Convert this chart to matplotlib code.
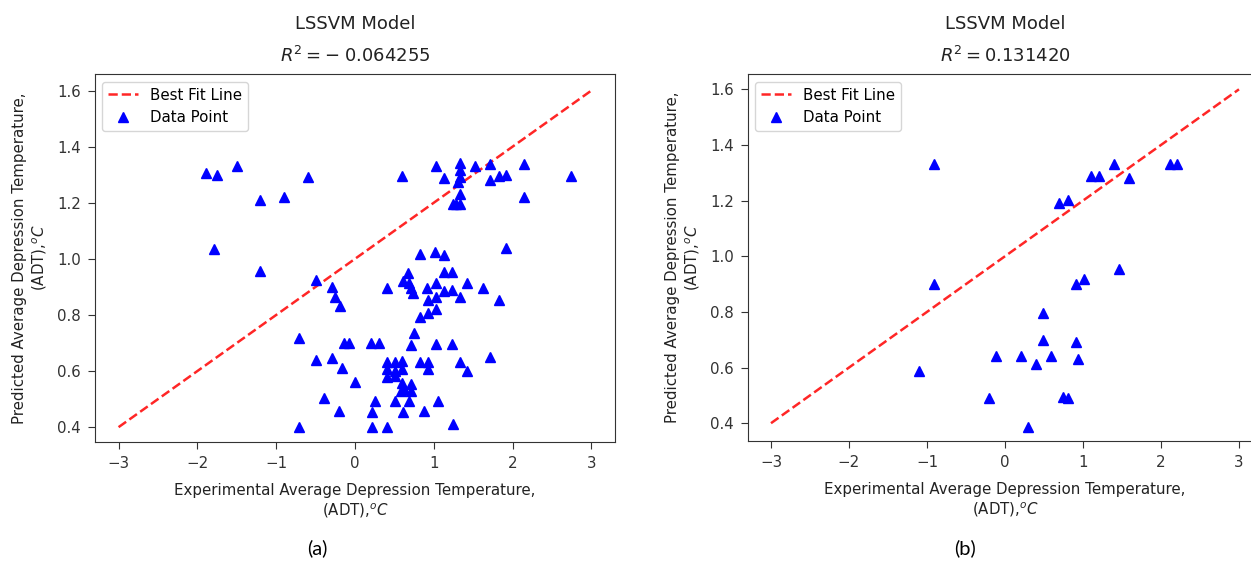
import matplotlib
matplotlib.use("Agg")
from matplotlib import pyplot as plt

# panel (a) points
x_a = [-1.89, -1.75, -1.50, -0.59, -1.20, -0.90, -1.79, -1.20, -0.49, -0.29,
       -0.25, -0.19, -0.71, -0.14, -0.08, 0.20, 0.30, -0.49, -0.29, -0.17,
       0.00, -0.39, -0.20, -0.71,
       0.60, 1.03, 1.13, 1.33, 1.33, 1.33, 1.31, 1.33, 1.24, 1.28,
       1.33, 1.52, 1.72, 1.72, 1.83, 1.92, 2.14, 2.14, 2.74, 1.92,
       0.82, 1.02, 1.13, 0.67, 0.61, 0.69, 0.71, 0.74, 0.41, 1.13,
       1.23, 0.92, 1.03, 1.13, 1.23, 1.42, 1.62, 1.33, 1.83, 0.93,
       1.03, 1.03, 0.93, 0.83, 0.75, 0.71, 1.03, 1.23, 1.72,
       0.41, 0.51, 0.60, 0.41, 0.51, 0.60, 0.41, 0.51, 0.60, 0.62,
       0.71, 0.71, 0.58,
       0.83, 0.93, 0.93, 1.33, 1.42, 0.25, 0.51, 0.69, 1.05, 0.22,
       0.61, 0.87, 0.22, 0.41, 1.24]
y_a = [1.307, 1.300, 1.331, 1.293, 1.210, 1.220, 1.034, 0.955, 0.925, 0.901,
       0.865, 0.833, 0.719, 0.700, 0.700, 0.700, 0.700, 0.640, 0.646, 0.610,
       0.560, 0.503, 0.459, 0.400,
       1.294, 1.331, 1.289, 1.340, 1.316, 1.292, 1.274, 1.232, 1.196, 1.196,
       1.196, 1.330, 1.337, 1.282, 1.294, 1.300, 1.337, 1.220, 1.294, 1.037,
       1.019, 1.025, 1.013, 0.950, 0.920, 0.914, 0.896, 0.878, 0.896, 0.953,
       0.953, 0.896, 0.914, 0.884, 0.890, 0.914, 0.896, 0.865, 0.854, 0.854,
       0.865, 0.823, 0.806, 0.791, 0.734, 0.692, 0.698, 0.698, 0.650,
       0.631, 0.631, 0.637, 0.607, 0.601, 0.607, 0.578, 0.584, 0.559, 0.535,
       0.553, 0.530, 0.530,
       0.631, 0.631, 0.607, 0.631, 0.601, 0.493, 0.493, 0.493, 0.493, 0.455,
       0.455, 0.459, 0.400, 0.400, 0.410]

# panel (b) points
x_b = [-0.91, -0.91, -1.10, -0.20, -0.11, 0.21, 0.40, 0.49, 0.49, 0.59,
       0.91, 0.94, 0.75, 0.81, 0.30, 0.91, 1.01, 1.46, 0.69, 0.81,
       1.10, 1.20, 1.40, 1.59, 2.11, 2.21]
y_b = [1.332, 0.900, 0.589, 0.490, 0.642, 0.642, 0.613, 0.699, 0.795, 0.640,
       0.693, 0.631, 0.495, 0.492, 0.388, 0.900, 0.917, 0.953, 1.193, 1.202,
       1.288, 1.288, 1.332, 1.282, 1.332, 1.332]

fit_x = [-3, 3]
fit_y = [0.4, 1.6]
r2_a = -0.064255
r2_b = 0.131420

plt.rcParams['font.family'] = 'DejaVu Sans'
fig = plt.figure(figsize=(12.51, 5.62), dpi=100)

panels = [
    ([0.0759, 0.2135, 0.4157, 0.6548], x_a, y_a, r2_a, (0.347, 1.659), '(a)', 0.254),
    ([0.5976, 0.2153, 0.4115, 0.6530], x_b, y_b, r2_b, (0.336, 1.655), '(b)', 0.771),
]

for rect, xs, ys, r2, ylim, cap, capx in panels:
    ax = fig.add_axes(rect)
    ax.plot(fit_x, fit_y, 'r--', lw=1.8, alpha=0.85, label='Best Fit Line')
    ax.plot(xs, ys, 'b^', ms=7.5, label='Data Point')
    ax.set_xlim(-3.3, 3.3)
    ax.set_ylim(*ylim)
    ax.set_xticks([-3, -2, -1, 0, 1, 2, 3])
    ax.set_yticks([0.4, 0.6, 0.8, 1.0, 1.2, 1.4, 1.6])
    ax.tick_params(labelsize=10.8, colors='#333333', length=5, pad=5)
    for s in ax.spines.values():
        s.set_color('#333333')
    if r2 < 0:
        r2_txt = r'$R^2 = -\;%f$' % abs(r2)
    else:
        r2_txt = r'$R^2 = %f$' % r2
    ax.set_title('LSSVM Model\n' + r2_txt, fontsize=13, color='#222222',
                 linespacing=1.75, pad=9)
    ax.set_xlabel('Experimental Average Depression Temperature,\n(ADT),$^oC$',
                  fontsize=10.8, color='#222222', labelpad=9)
    ax.set_ylabel('Predicted Average Depression Temperature,\n(ADT),$^oC$',
                  fontsize=10.8, color='#222222', labelpad=6)
    ax.legend(loc='upper left', fontsize=10.8)
    fig.text(capx, 0.025, cap, fontsize=14.5, family='Lato', ha='center', va='center')

fig.savefig('out.png', dpi=100)
